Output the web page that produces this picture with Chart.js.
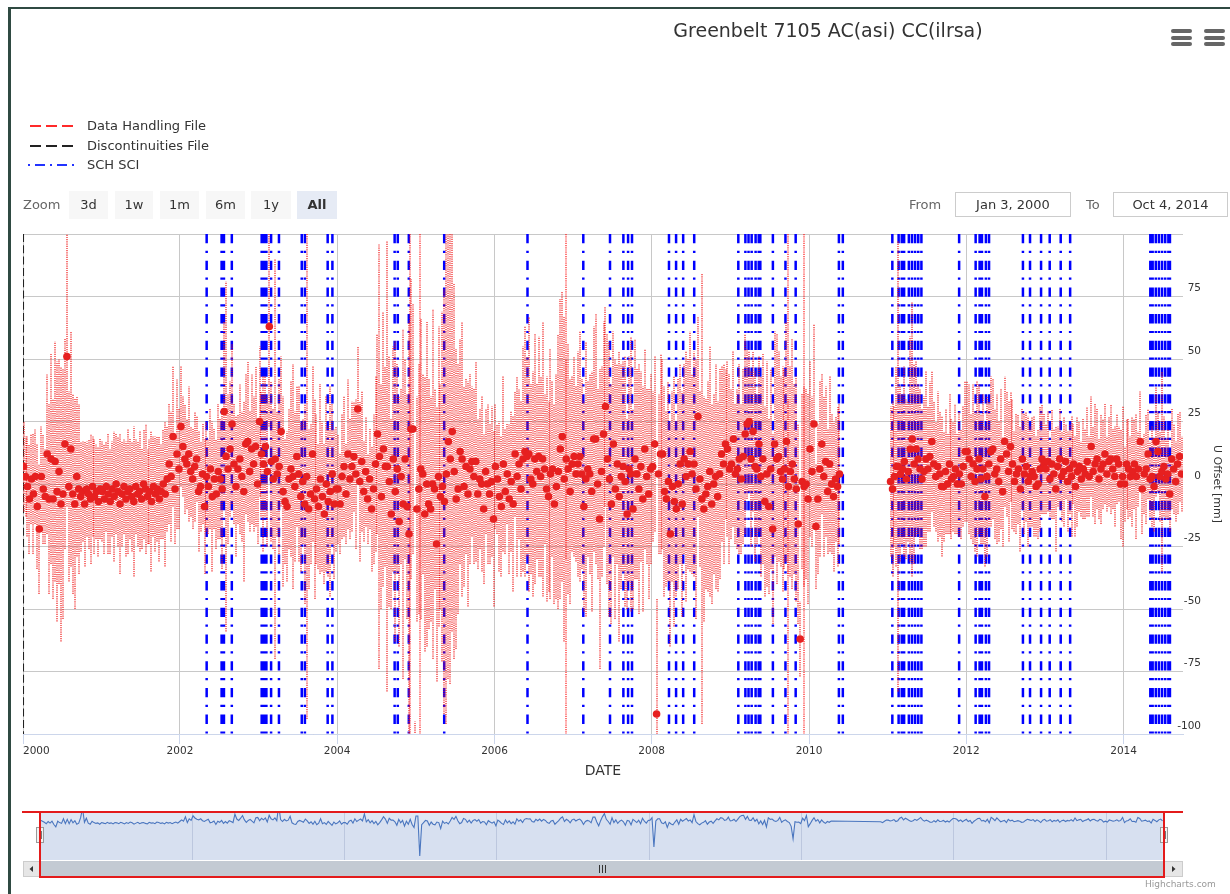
<!DOCTYPE html>
<html><head><meta charset="utf-8">
<script src="https://cdn.jsdelivr.net/npm/chart.js@4.4.1/dist/chart.umd.min.js"></script>
<style>
html,body{margin:0;padding:0;background:#fff;width:1230px;height:894px;overflow:hidden;font-family:"DejaVu Sans",sans-serif;}
#frameL{position:absolute;left:8px;top:7px;width:3px;height:887px;background:#2f4a42;z-index:5;}
#frameT{position:absolute;left:8px;top:7px;width:1222px;height:2px;background:#2f4a42;z-index:5;}
canvas{position:absolute;left:0;}
#main{top:0;z-index:1;}
#nav{top:790px;z-index:2;}
.abs{position:absolute;z-index:3;white-space:nowrap;}
.btn{position:absolute;z-index:3;top:191px;height:28px;line-height:28px;text-align:center;background:#f7f7f7;color:#333;font-size:13px;}
.sel{background:#e6ebf5;font-weight:bold;}
.box{position:absolute;z-index:3;top:192px;height:25px;line-height:23px;box-sizing:border-box;border:1px solid #cccccc;text-align:center;color:#333;font-size:13px;white-space:nowrap;}
.lbl{position:absolute;z-index:3;top:192px;line-height:25px;color:#666;font-size:13px;white-space:nowrap;}
.ham{position:absolute;z-index:3;top:29px;width:21px;}
.ham div{height:4px;background:#666;border-radius:2px;margin-bottom:2.5px;}
.leg{position:absolute;z-index:3;left:28px;height:18px;width:260px;}
.leg svg{position:absolute;left:0;top:4px;}
.leg span{position:absolute;left:59px;top:0;line-height:18px;font-size:13px;color:#333;white-space:nowrap;}
</style></head>
<body>
<div id="frameL"></div><div id="frameT"></div>
<canvas id="main" width="1230" height="894"></canvas>
<canvas id="nav" width="1230" height="104"></canvas>

<div class="abs" style="left:528px;width:600px;top:19px;text-align:center;font-size:19px;color:#333;">Greenbelt 7105 AC(asi) CC(ilrsa)</div>
<div class="ham" style="left:1171px;"><div></div><div></div><div></div></div>
<div class="ham" style="left:1204px;"><div></div><div></div><div></div></div>

<div class="leg" style="top:117px;"><svg width="52" height="10"><line x1="2" y1="5" x2="50" y2="5" stroke="#ff2a2a" stroke-width="2" stroke-dasharray="11,5"/></svg><span>Data Handling File</span></div>
<div class="leg" style="top:137px;"><svg width="52" height="10"><line x1="2" y1="5" x2="50" y2="5" stroke="#222" stroke-width="2" stroke-dasharray="11,5"/></svg><span>Discontinuities File</span></div>
<div class="leg" style="top:156px;"><svg width="52" height="10"><line x1="0" y1="5" x2="50" y2="5" stroke="#2233ff" stroke-width="2" stroke-dasharray="2,5,10,5"/></svg><span>SCH SCI</span></div>

<div class="lbl" style="left:23px;top:191px;line-height:28px;">Zoom</div>
<div class="btn" style="left:69px;width:39px;">3d</div>
<div class="btn" style="left:115px;width:38px;">1w</div>
<div class="btn" style="left:160px;width:39px;">1m</div>
<div class="btn" style="left:206px;width:39px;">6m</div>
<div class="btn" style="left:251px;width:40px;">1y</div>
<div class="btn sel" style="left:297px;width:40px;">All</div>
<div class="lbl" style="left:909px;">From</div>
<div class="box" style="left:955px;width:116px;">Jan 3, 2000</div>
<div class="lbl" style="left:1086px;">To</div>
<div class="box" style="left:1113px;width:115px;">Oct 4, 2014</div>
<div class="abs" style="left:1145px;top:879px;font-size:9px;color:#999;">Highcharts.com</div>

<script>
// ---- data: U offset [mm] per year, 40 samples per year, and error bar half-widths ----
const u2000 = [7,3,-1,-6,2,-4,3,-9,-18,3,-2,-5,12,-6,10,-6,9,-3,5,-8,-4,16,51,-1,14,-4,-8,3,-2,-5,-3,-8,-2,-4,-6,-1,-5,-3,-7,-2];
const e2000 = [18,16,20,22,18,24,19,25,26,20,22,19,32,38,42,40,48,52,45,55,50,42,60,38,47,40,42,32,34,22,20,25,19,22,26,20,23,19,22,20];
const u2001 = [-3,-6,-1,-4,-7,-2,-5,0,-3,-8,-4,-1,-6,-3,-2,-5,-7,-1,-4,-3,-6,0,-2,-5,-3,-7,-1,-4,-2,-6,-3,0,-4,2,8,3,19,-2,12,6];
const e2001 = [20,22,18,24,21,19,26,20,22,28,21,19,23,25,20,22,30,19,21,24,20,22,26,19,21,28,20,23,21,25,19,22,29,21,24,26,28,22,30,24];
const u2002 = [23,15,10,8,12,5,2,7,10,-3,-1,4,-9,3,-1,6,-5,2,-4,5,2,-2,29,11,6,14,24,8,-1,6,10,3,-3,16,17,5,14,8,15,0];
const e2002 = [24,20,22,18,27,18,20,22,17,24,18,20,27,22,19,24,30,20,22,27,24,32,36,70,30,27,32,24,28,22,30,26,36,28,32,24,30,27,32,24];
const u2003 = [25,12,8,15,5,63,9,2,10,4,7,21,-3,-7,-9,2,6,3,-1,11,4,-5,1,-8,3,-10,-4,12,-6,-2,-9,2,-5,-12,0,-7,-3,4,-8,-2];
const e2003 = [30,25,35,28,30,40,32,28,80,25,35,30,38,25,30,28,35,45,30,28,35,30,25,40,97,32,28,35,40,30,25,38,30,28,35,30,42,28,30,25];
const u2004 = [-2,-8,3,7,-4,12,2,7,11,4,30,1,9,-3,5,-6,2,-10,-2,8,20,11,-5,14,7,7,1,-12,10,-3,6,-15,3,-8,10,-9,-20,22,22,-125];
const e2004 = [22,20,25,28,20,30,24,26,22,30,25,32,28,20,22,18,20,25,30,35,40,85,45,55,40,90,50,38,45,60,42,50,35,70,40,45,85,60,50,30];
const u2005 = [-10,-2,6,4,-12,0,-8,-10,0,-2,-24,3,-5,-1,-7,4,17,10,21,5,-6,-2,13,10,-1,7,-4,6,9,3,9,-4,2,0,-10,5,0,-4,1,-14];
const e2005 = [45,50,60,40,55,65,50,45,70,40,55,60,45,70,85,100,95,90,80,75,60,50,45,55,40,35,45,38,30,35,40,30,28,35,30,25,32,28,30,35];
const u2006 = [7,2,-5,-9,8,-3,4,-6,1,-8,12,3,8,-2,10,13,11,12,2,0,10,5,11,3,10,6,-2,-5,4,6,-8,-1,5,14,19,2,10,6,-3,8];
const e2006 = [25,22,30,28,35,25,20,30,28,35,25,40,30,35,45,50,40,55,38,45,50,35,48,40,55,30,45,38,50,35,40,45,55,60,58,65,40,50,45,35];
const u2007 = [11,4,8,11,4,-9,2,6,4,-3,18,18,0,-14,5,20,31,10,2,-8,16,-2,8,-5,3,7,1,-12,6,4,-10,10,4,-2,7,-6,14,3,-4,6];
const e2007 = [40,35,45,50,38,42,55,35,40,48,45,50,38,60,42,45,40,50,55,48,45,52,40,58,45,42,50,38,45,55,40,48,42,50,38,45,40,35,42,38];
const u2008 = [7,16,-92,4,12,12,-3,-6,1,-20,-1,-7,-10,0,8,-8,10,3,8,13,4,8,-2,27,2,-6,-10,-4,-1,5,-8,0,3,-5,4,12,8,16,14,6];
const e2008 = [30,35,46,32,40,38,42,35,40,45,38,50,35,42,40,45,38,50,42,48,40,45,52,40,35,90,45,38,42,50,40,36,45,38,42,35,40,30,35,38];
const u2009 = [8,18,4,6,10,2,11,20,24,25,10,21,7,6,16,3,10,-7,4,-9,6,-18,16,10,11,5,2,6,17,-1,5,8,2,-2,-16,-62,1,-1,0,-6];
const e2009 = [30,35,28,32,38,30,35,40,30,28,35,32,38,30,35,40,42,38,45,35,40,38,45,50,42,38,45,40,48,35,42,50,38,45,40,15,35,40,38,42];
const u2010 = [14,5,24,-17,-6,6,16,3,9,-3,8,0,-5,2,-1,4,null,null,null,null,null,null,null,null,null,null,null,null,null,null,null,null,null,null,null,null,null,null,null,null];
const e2010 = [35,30,40,25,30,35,28,32,30,25,35,28,30,25,32,28,null,null,null,null,null,null,null,null,null,null,null,null,null,null,null,null,null,null,null,null,null,null,null,null];
const u2011 = [null,1,-2,3,7,7,4,6,9,2,5,14,18,8,14,10,6,2,5,10,6,11,17,8,3,7,4,-1,-1,5,0,8,2,3,6,0,4,0,7,13];
const e2011 = [null,30,35,28,40,90,35,30,38,32,28,45,55,40,35,30,32,28,30,35,25,30,28,25,22,30,25,28,22,25,20,28,24,22,26,20,25,22,24,28];
const u2012 = [13,10,3,8,1,6,10,2,6,-5,3,8,13,14,4,6,1,10,-3,17,12,5,15,8,1,4,6,-2,10,4,7,1,3,5,3,-1,0,6,10,8];
const e2012 = [28,30,25,32,28,35,30,26,30,28,32,25,30,28,26,30,24,28,22,26,25,28,22,26,20,24,22,25,20,24,22,26,20,22,24,20,22,25,22,20];
const u2013 = [6,9,2,8,4,-2,7,10,3,5,9,1,6,3,8,-1,5,7,2,6,4,9,3,15,5,8,10,2,6,8,12,4,9,10,6,3,10,8,0,3];
const e2013 = [18,20,15,22,18,25,16,20,18,22,15,20,18,24,16,20,22,18,15,20,18,22,16,20,18,24,20,16,22,18,20,15,18,22,16,20,18,15,22,28];
const u2014 = [0,8,6,3,5,8,3,6,17,-2,4,6,12,2,3,-1,17,13,3,5,7,2,4,-4,10,6,1,8,11,4];
const e2014 = [15,18,20,16,22,18,25,15,20,18,16,22,18,15,20,18,22,16,18,40,20,16,18,15,20,18,16,20,18,15];

// event files (decimal years)
const schSci = [2002.34,2002.53,2002.56,2002.66,2003.04,2003.07,2003.10,2003.16,2003.26,2003.55,2003.59,2003.88,2003.94,
  2004.73,2004.77,2004.91,2005.36,2006.42,2007.13,2007.47,2007.64,2007.70,2007.75,2008.22,2008.31,2008.40,2008.54,
  2009.10,2009.19,2009.23,2009.27,2009.32,2009.36,2009.38,2009.54,2009.70,2009.83,2010.38,2010.43,
  2011.06,2011.14,2011.18,2011.21,2011.27,2011.31,2011.35,2011.39,2011.43,2011.91,2012.12,2012.17,2012.20,2012.25,2012.29,
  2012.72,2012.81,2012.95,2013.06,2013.20,2013.32,2014.34,2014.37,2014.41,2014.45,2014.49,2014.53,2014.57,2014.59];
const dataHandling = [2004.93,2005.05,2006.91,2009.73,2009.94];
const discontinuities = [2000.006];

const mainTickYears = [2002,2004,2006,2008,2010,2012,2014];
const navTickYears = [2002,2004,2006,2008,2010,2012,2014];
const yTickStep = 25;

const X_MIN = Date.UTC(2000,0,3), X_MAX = Date.UTC(2014,9,4);
const toMs = dy => { const Y = Math.floor(dy); const a = Date.UTC(Y,0,1), b = Date.UTC(Y+1,0,1); return a + (dy - Y) * (b - a); };

const blocks = [[2000,u2000,e2000],[2001,u2001,e2001],[2002,u2002,e2002],[2003,u2003,e2003],[2004,u2004,e2004],
  [2005,u2005,e2005],[2006,u2006,e2006],[2007,u2007,e2007],[2008,u2008,e2008],[2009,u2009,e2009],[2010,u2010,e2010],
  [2011,u2011,e2011],[2012,u2012,e2012],[2013,u2013,e2013],[2014,u2014,e2014]];
const pts = [], bars = [];
blocks.forEach(([Y,u,e]) => u.forEach((v,i) => {
  if (v === null) return;
  const x = toMs(Y + (i + 0.5) / 40);
  pts.push({x, y:v});
  bars.push({x, y:v - e[i]}, {x, y:v + e[i]}, {x, y:null});
}));
const vlines = arr => arr.flatMap(d => { const x = toMs(d); return [{x,y:100},{x,y:-100},{x,y:null}]; });

Chart.defaults.font.family = '"DejaVu Sans", sans-serif';
Chart.defaults.color = '#333';

const lineDs = (data, color, width, dash, order, crisp) => ({type:'line', data, borderColor:color, borderWidth:width, borderDash:dash,
  pointRadius:0, spanGaps:false, showLine:true, fill:false, order, crisp});

// snap thin dotted vertical lines to whole pixels (positions still come from the x scale)
const crispPlugin = {
  id:'crispLines',
  afterDatasetsUpdate(chart){
    chart.data.datasets.forEach((ds, i) => {
      if (!ds.crisp) return;
      chart.getDatasetMeta(i).data.forEach(p => { p.x = Math.round(p.x); });
    });
  }
};

new Chart(document.getElementById('main'), {
  type:'scatter',
  data:{ datasets:[
    {type:'scatter', data:pts, pointRadius:3.8, pointBackgroundColor:'#e62020', pointBorderWidth:0, order:0},
    lineDs(bars, '#f01818', 1.2, [1.2,1], 1, true),
    lineDs(vlines(dataHandling), '#ff1a1a', 1.2, [1.2,1], 2, true),
    lineDs(vlines(discontinuities), '#222222', 2, [8,3.3], 3, false),
    lineDs(vlines(schSci), '#0000ff', 2.5, [9.3,7.5,2.2,7.7], 4, false)
  ]},
  options:{
    animation:false, responsive:false, devicePixelRatio:1, events:[],
    layout:{padding:{left:23, top:234, right:29, bottom:110}},
    plugins:{legend:{display:false}, tooltip:{enabled:false}, title:{display:false}},
    scales:{
      x:{type:'linear', min:X_MIN, max:X_MAX,
        afterBuildTicks: s => { s.ticks = [X_MIN, ...mainTickYears.map(y => Date.UTC(y,0,1)), X_MAX].map(v => ({value:v})); },
        ticks:{align:'inner', autoSkip:false, maxRotation:0, padding:1, font:{size:10.5}, color:'#333',
          callback:(v,i,t) => i === t.length - 1 ? '' : String(new Date(v).getUTCFullYear())},
        grid:{color: c => (c.tick && c.tick.value === X_MAX) ? 'rgba(0,0,0,0)' : '#c8c8c8',
          tickColor: c => (c.tick && c.tick.value === X_MAX) ? 'rgba(0,0,0,0)' : '#ccd6eb', tickLength:10, drawTicks:true},
        border:{display:true, color:'#ccd6eb'},
        title:{display:true, text:'DATE', font:{size:14}, color:'#333', padding:{top:0, bottom:4}},
        afterFit: s => { s.height = 50; }
      },
      y:{position:'right', min:-100, max:100,
        ticks:{stepSize:yTickStep, mirror:true, crossAlign:'near', padding:18, labelOffset:-8, z:1, font:{size:10.5}, color:'#333',
          callback: v => v === 100 ? '' : String(v)},
        grid:{color:'#c8c8c8', drawTicks:false},
        border:{display:false},
        title:{display:true, text:'U Offset [mm]', font:{size:11}, color:'#333', padding:{top:-22, bottom:0}},
        afterFit: s => { s.width = 18; }
      }
    }
  },
  plugins:[crispPlugin]
});

const navDecor = {
  id:'navDecor',
  beforeDraw(c){
    const {ctx, chartArea:a} = c;
    ctx.save(); ctx.fillStyle = 'rgba(102,133,194,0.2)';
    ctx.fillRect(a.left, a.top, a.right - a.left, a.bottom - a.top); ctx.restore();
  },
  afterDraw(c){
    const {ctx, chartArea:a} = c;
    const L = a.left, R = a.right, sbT = a.bottom + 1, sbH = 16;
    const trackL = L - 17, trackR = R + 19;
    ctx.save();
    ctx.fillStyle = '#f2f2f2'; ctx.fillRect(trackL, sbT, trackR - trackL, sbH);
    ctx.fillStyle = '#e6e6e6'; ctx.strokeStyle = '#cccccc'; ctx.lineWidth = 1;
    ctx.fillRect(trackL, sbT, L - trackL, sbH); ctx.strokeRect(trackL + 0.5, sbT + 0.5, L - trackL - 1, sbH - 1);
    ctx.fillRect(R, sbT, trackR - R, sbH); ctx.strokeRect(R + 0.5, sbT + 0.5, trackR - R - 1, sbH - 1);
    ctx.fillStyle = '#333';
    const cy = sbT + sbH / 2, lx = (trackL + L) / 2, rx = (R + trackR) / 2;
    ctx.beginPath(); ctx.moveTo(lx - 2, cy); ctx.lineTo(lx + 1.5, cy - 3); ctx.lineTo(lx + 1.5, cy + 3); ctx.closePath(); ctx.fill();
    ctx.beginPath(); ctx.moveTo(rx + 2, cy); ctx.lineTo(rx - 1.5, cy - 3); ctx.lineTo(rx - 1.5, cy + 3); ctx.closePath(); ctx.fill();
    ctx.fillStyle = '#c3cad3'; ctx.fillRect(L, sbT, R - L, sbH);
    ctx.strokeStyle = '#333'; ctx.lineWidth = 1;
    const mx = Math.round((L + R) / 2);
    [-3,0,3].forEach(d => { ctx.beginPath(); ctx.moveTo(mx + d + 0.5, cy - 4); ctx.lineTo(mx + d + 0.5, cy + 4); ctx.stroke(); });
    [L, R].forEach(hx => {
      const hy = a.top + 15;
      ctx.fillStyle = '#f2f2f2'; ctx.strokeStyle = '#999'; ctx.lineWidth = 1;
      ctx.fillRect(hx - 4, hy, 8, 16); ctx.strokeRect(hx - 3.5, hy + 0.5, 7, 15);
      ctx.strokeStyle = '#777';
      [-1, 1].forEach(d => { ctx.beginPath(); ctx.moveTo(hx + d + 0.5, hy + 4); ctx.lineTo(hx + d + 0.5, hy + 12); ctx.stroke(); });
    });
    ctx.strokeStyle = '#e31b1b'; ctx.lineWidth = 2;
    ctx.beginPath();
    ctx.moveTo(trackL - 1, a.top); ctx.lineTo(trackR, a.top);
    ctx.moveTo(L, a.top); ctx.lineTo(L, sbT + sbH);
    ctx.moveTo(R, a.top); ctx.lineTo(R, sbT + sbH);
    ctx.moveTo(L - 1, sbT + sbH); ctx.lineTo(R + 1, sbT + sbH);
    ctx.stroke();
    ctx.restore();
  }
};

new Chart(document.getElementById('nav'), {
  type:'line',
  data:{ datasets:[{data:pts, borderColor:'#4a76bf', borderWidth:1.1, pointRadius:0, spanGaps:true,
    fill:'start', backgroundColor:'rgba(51,92,173,0.05)'}]},
  options:{
    animation:false, responsive:false, devicePixelRatio:1, events:[],
    layout:{padding:{left:40, right:66, top:22, bottom:34}},
    plugins:{legend:{display:false}, tooltip:{enabled:false}},
    scales:{
      x:{type:'linear', min:X_MIN, max:X_MAX,
        afterBuildTicks: s => { s.ticks = navTickYears.map(y => ({value:Date.UTC(y,0,1)})); },
        ticks:{align:'start', labelOffset:3, padding:-17, z:1, color:'#8a8a8a', font:{size:13}, autoSkip:false, maxRotation:0,
          callback: v => String(new Date(v).getUTCFullYear())},
        grid:{color:'rgba(140,155,190,0.35)', drawTicks:false},
        border:{display:false},
        afterFit: s => { s.height = 0; }
      },
      y:{display:false, min:-140, max:37}
    }
  },
  plugins:[navDecor]
});
</script>
</body></html>
